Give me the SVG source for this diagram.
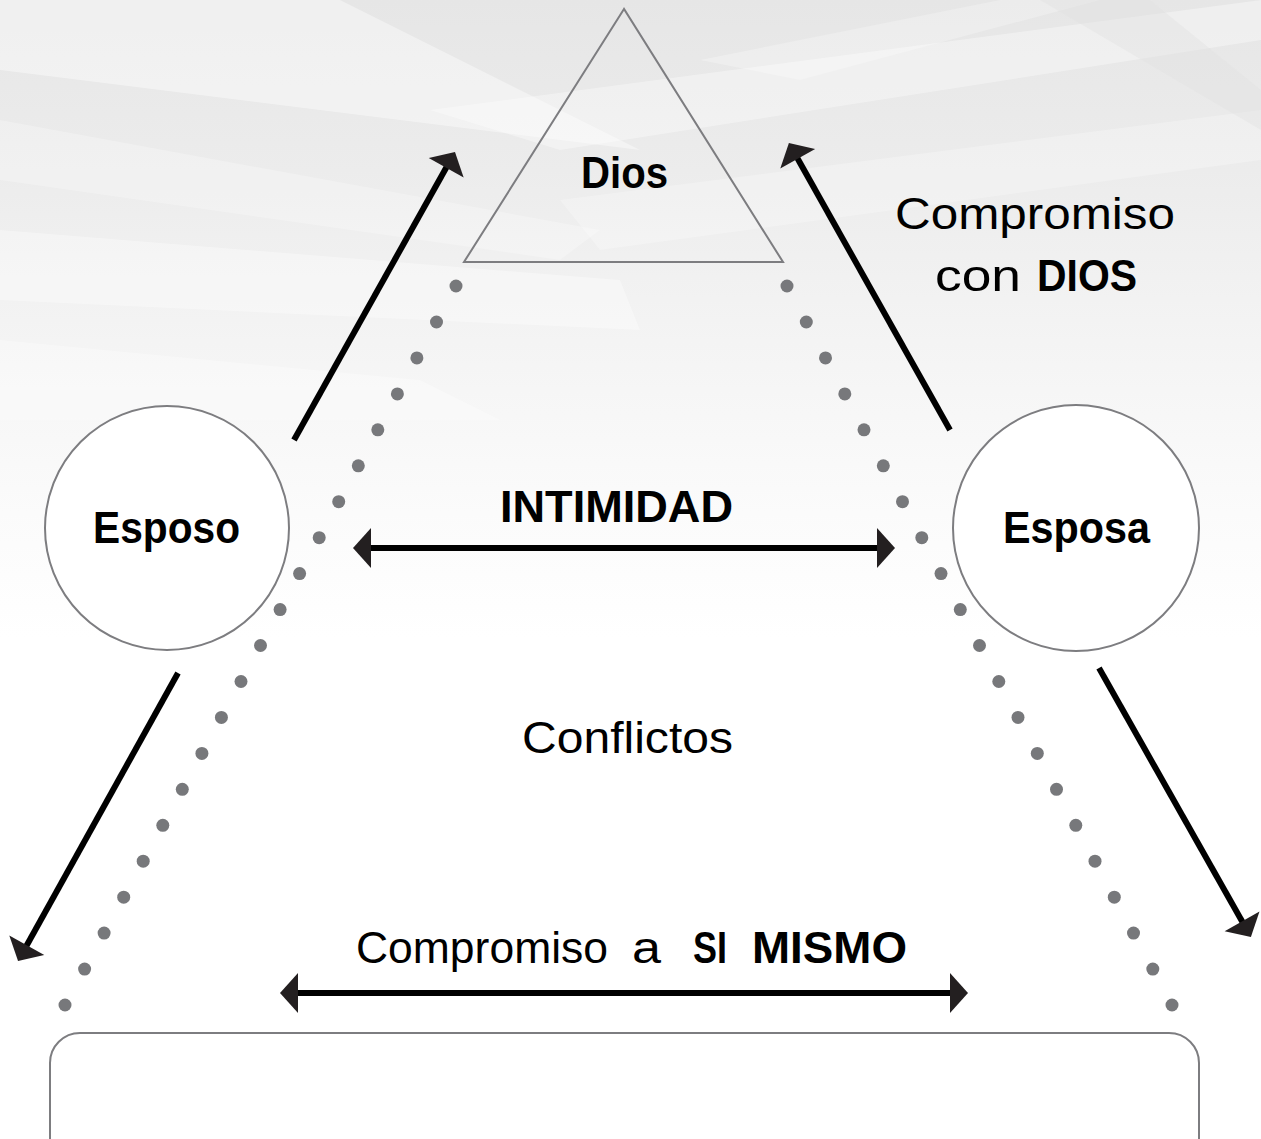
<svg xmlns="http://www.w3.org/2000/svg" width="1261" height="1139" viewBox="0 0 1261 1139">
  <defs>
    <linearGradient id="bg" x1="0" y1="0" x2="0" y2="1">
      <stop offset="0" stop-color="#e6e6e6"/>
      <stop offset="0.15" stop-color="#ececec"/>
      <stop offset="0.3" stop-color="#f4f4f4"/>
      <stop offset="0.45" stop-color="#fbfbfb"/>
      <stop offset="0.56" stop-color="#ffffff"/>
      <stop offset="1" stop-color="#ffffff"/>
    </linearGradient>
    <marker id="ah" markerUnits="userSpaceOnUse" markerWidth="40" markerHeight="44" viewBox="-10 -22 22 44" refX="0" refY="0" orient="auto-start-reverse">
      <path d="M10,0 L-8,-20 L-8,20 Z" fill="#231f20"/>
    </marker>
    <style>
      .dot { fill: #77787b; }
      .shape { fill: none; stroke: #7d7d80; stroke-width: 2; }
      .node { fill: #ffffff; stroke: #7d7d80; stroke-width: 2; }
      .arrow { stroke: #000000; stroke-width: 6; fill: none; }
      .b { font-family: "Liberation Sans", Arial, sans-serif; font-weight: bold; font-size: 44px; fill: #000000; }
      .r { font-family: "Liberation Sans", Arial, sans-serif; font-weight: normal; font-size: 44px; fill: #000000; }
      .streak { fill: #ffffff; }
    </style>
  </defs>

  <!-- background -->
  <rect x="0" y="0" width="1261" height="1139" fill="url(#bg)"/>
  <g id="background-streaks">
    <polygon class="streak" opacity="0.4" points="0,0 340,0 640,150 0,70"/>
    <polygon class="streak" opacity="0.35" points="0,230 0,300 640,330 620,280"/>
    <polygon class="streak" opacity="0.25" points="0,120 0,180 560,260 600,230"/>
    <polygon class="streak" opacity="0.35" points="430,110 1261,0 1261,40 560,150"/>
    <polygon class="streak" opacity="0.25" points="560,200 1261,110 1261,160 600,250"/>
    <polygon class="streak" opacity="0.25" points="700,60 1000,0 1100,0 800,80"/>
    <polygon fill="#e2e2e2" opacity="0.4" points="1040,0 1150,0 1261,90 1261,130"/>
    <polygon class="streak" opacity="0.3" points="0,340 0,420 500,420 420,380"/>
  </g>

  <!-- dotted triangle sides -->
  <g id="dots-left">
    <circle class="dot" cx="456" cy="286" r="6.5"/>
    <circle class="dot" cx="436.5" cy="322" r="6.5"/>
    <circle class="dot" cx="416.9" cy="357.9" r="6.5"/>
    <circle class="dot" cx="397.4" cy="393.9" r="6.5"/>
    <circle class="dot" cx="377.8" cy="429.8" r="6.5"/>
    <circle class="dot" cx="358.3" cy="465.8" r="6.5"/>
    <circle class="dot" cx="338.7" cy="501.7" r="6.5"/>
    <circle class="dot" cx="319.2" cy="537.7" r="6.5"/>
    <circle class="dot" cx="299.6" cy="573.6" r="6.5"/>
    <circle class="dot" cx="280.1" cy="609.6" r="6.5"/>
    <circle class="dot" cx="260.5" cy="645.5" r="6.5"/>
    <circle class="dot" cx="241" cy="681.5" r="6.5"/>
    <circle class="dot" cx="221.4" cy="717.4" r="6.5"/>
    <circle class="dot" cx="201.9" cy="753.4" r="6.5"/>
    <circle class="dot" cx="182.3" cy="789.3" r="6.5"/>
    <circle class="dot" cx="162.8" cy="825.3" r="6.5"/>
    <circle class="dot" cx="143.2" cy="861.2" r="6.5"/>
    <circle class="dot" cx="123.7" cy="897.2" r="6.5"/>
    <circle class="dot" cx="104.1" cy="933.1" r="6.5"/>
    <circle class="dot" cx="84.6" cy="969.1" r="6.5"/>
    <circle class="dot" cx="65" cy="1005" r="6.5"/>
  </g>
  <g id="dots-right">
    <circle class="dot" cx="787" cy="286" r="6.5"/>
    <circle class="dot" cx="806.3" cy="322" r="6.5"/>
    <circle class="dot" cx="825.5" cy="357.9" r="6.5"/>
    <circle class="dot" cx="844.8" cy="393.9" r="6.5"/>
    <circle class="dot" cx="864" cy="429.8" r="6.5"/>
    <circle class="dot" cx="883.3" cy="465.8" r="6.5"/>
    <circle class="dot" cx="902.5" cy="501.7" r="6.5"/>
    <circle class="dot" cx="921.8" cy="537.7" r="6.5"/>
    <circle class="dot" cx="941" cy="573.6" r="6.5"/>
    <circle class="dot" cx="960.3" cy="609.6" r="6.5"/>
    <circle class="dot" cx="979.5" cy="645.5" r="6.5"/>
    <circle class="dot" cx="998.8" cy="681.5" r="6.5"/>
    <circle class="dot" cx="1018" cy="717.4" r="6.5"/>
    <circle class="dot" cx="1037.3" cy="753.4" r="6.5"/>
    <circle class="dot" cx="1056.5" cy="789.3" r="6.5"/>
    <circle class="dot" cx="1075.8" cy="825.3" r="6.5"/>
    <circle class="dot" cx="1095" cy="861.2" r="6.5"/>
    <circle class="dot" cx="1114.3" cy="897.2" r="6.5"/>
    <circle class="dot" cx="1133.5" cy="933.1" r="6.5"/>
    <circle class="dot" cx="1152.8" cy="969.1" r="6.5"/>
    <circle class="dot" cx="1172" cy="1005" r="6.5"/>
  </g>

  <!-- nodes -->
  <g id="node-dios">
    <polygon class="shape" points="624,9 464,262 783,262"/>
    <text class="b" x="581" y="188" textLength="87" lengthAdjust="spacingAndGlyphs">Dios</text>
  </g>
  <g id="node-esposo">
    <circle class="node" cx="167" cy="528" r="122"/>
    <text class="b" x="93" y="543" textLength="147" lengthAdjust="spacingAndGlyphs">Esposo</text>
  </g>
  <g id="node-esposa">
    <circle class="node" cx="1076" cy="528" r="123"/>
    <text class="b" x="1003" y="543" textLength="147" lengthAdjust="spacingAndGlyphs">Esposa</text>
  </g>
  <g id="node-base">
    <rect class="node" x="50" y="1033" width="1149" height="160" rx="30" ry="30"/>
  </g>

  <!-- connectors -->
  <g id="connectors">
    <line class="arrow" x1="294" y1="440" x2="450.1" y2="160.7" marker-end="url(#ah)"/>
    <line class="arrow" x1="950" y1="430" x2="793.8" y2="151.8" marker-end="url(#ah)"/>
    <line class="arrow" x1="178" y1="673" x2="22.9" y2="952.3" marker-end="url(#ah)"/>
    <line class="arrow" x1="1099" y1="668" x2="1246" y2="928.3" marker-end="url(#ah)"/>
    <line class="arrow" x1="363" y1="548" x2="885" y2="548" marker-start="url(#ah)" marker-end="url(#ah)"/>
    <line class="arrow" x1="290" y1="993" x2="958" y2="993" marker-start="url(#ah)" marker-end="url(#ah)"/>
  </g>

  <!-- labels -->
  <g id="labels">
    <text class="r" x="895" y="229" textLength="280" lengthAdjust="spacingAndGlyphs">Compromiso</text>
    <text class="r" x="935" y="291" textLength="86" lengthAdjust="spacingAndGlyphs">con</text>
    <text class="b" x="1037" y="291" textLength="100" lengthAdjust="spacingAndGlyphs">DIOS</text>
    <text class="b" x="500" y="522" textLength="233" lengthAdjust="spacingAndGlyphs">INTIMIDAD</text>
    <text class="r" x="522" y="753" textLength="211" lengthAdjust="spacingAndGlyphs">Conflictos</text>
    <text class="r" x="356" y="963" textLength="252" lengthAdjust="spacingAndGlyphs">Compromiso</text>
    <text class="r" x="632" y="963" textLength="29" lengthAdjust="spacingAndGlyphs">a</text>
    <text class="b" x="693" y="963" textLength="34" lengthAdjust="spacingAndGlyphs">SI</text>
    <text class="b" x="752" y="963" textLength="155" lengthAdjust="spacingAndGlyphs">MISMO</text>
  </g>
</svg>
